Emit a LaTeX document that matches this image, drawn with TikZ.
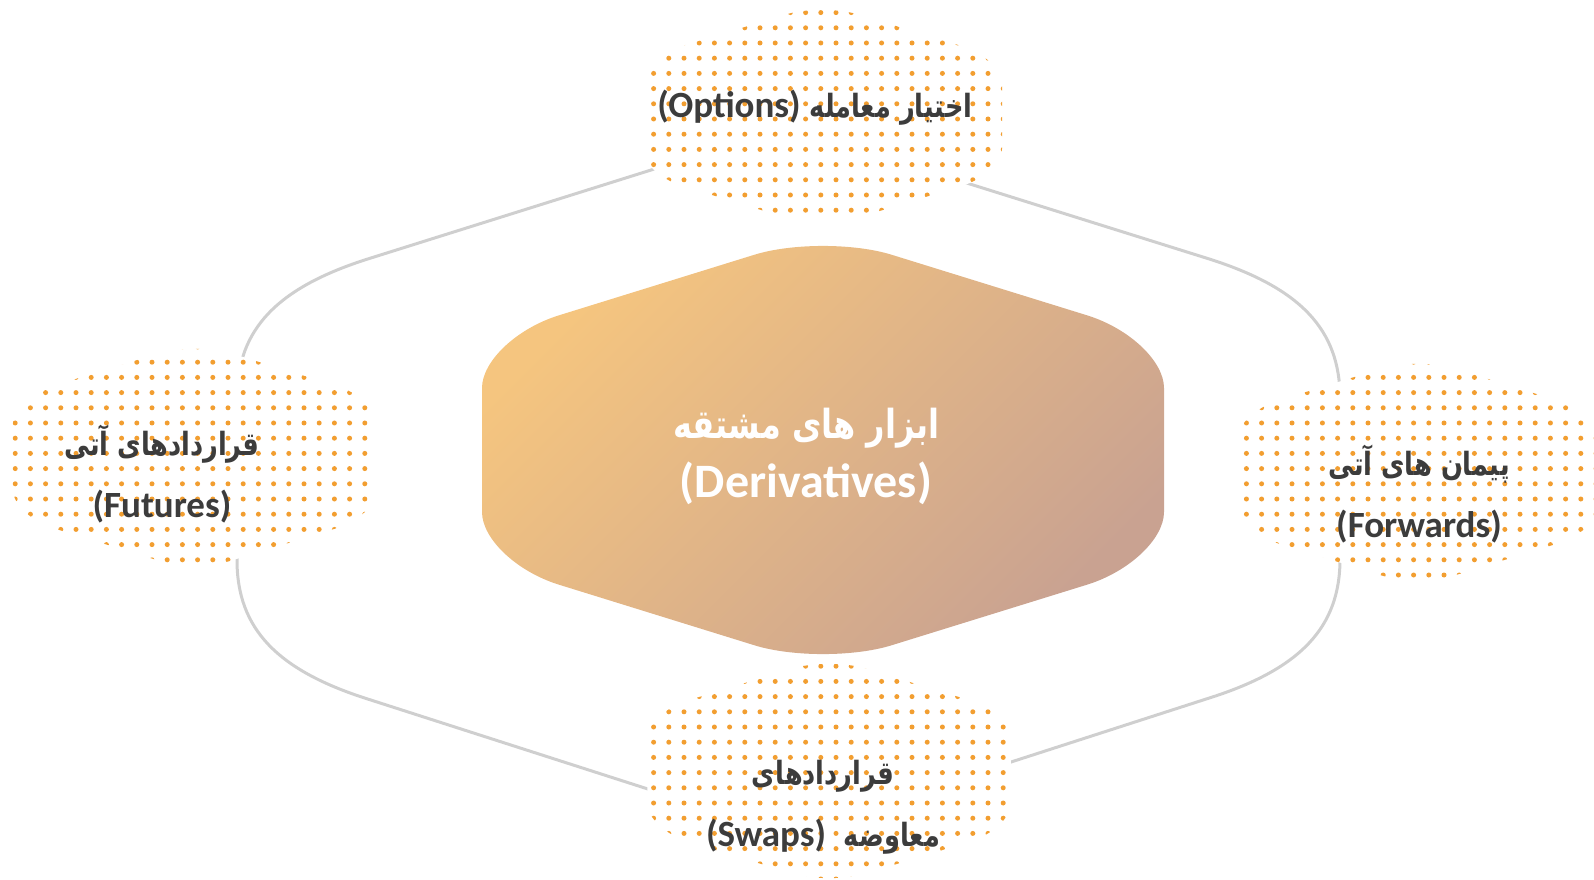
\documentclass[tikz,border=0pt]{standalone}
\usepackage{fontspec}
\setmainfont{Carlito}
\newfontfamily\fa[Script=Arabic,FakeStretch=0.8]{DejaVu Sans}
\newfontfamily\lat[BoldFont={Carlito Bold}]{Carlito}
\TeXXeTstate=1
\usetikzlibrary{patterns.meta}
\definecolor{txtdark}{HTML}{3C3C3C}
\definecolor{ringgrey}{HTML}{CFCFCF}
\definecolor{dotorange}{HTML}{F29E30}
\definecolor{gradA}{HTML}{F5C57F}
\definecolor{gradB}{HTML}{C9A291}
\newcommand{\hexpath}{(-341,-62) .. controls (-341,-89) and (-306,-122) .. (-263,-135) -- (-68.8,-195.2) .. controls (-31,-207) and (31,-207) .. (68.8,-195.2) -- (263,-135) .. controls (306,-122) and (341,-89) .. (341,-62) -- (341,62) .. controls (341,89) and (306,122) .. (263,135) -- (68.8,195.2) .. controls (31,207) and (-31,207) .. (-68.8,195.2) -- (-263,135) .. controls (-306,122) and (-341,89) .. (-341,62) -- cycle}
\newcommand{\fatext}{\fontsize{16}{31}\selectfont\fa\bfseries}
\newcommand{\lattext}{\fontsize{18.5}{31}\selectfont\lat\bfseries}
\tikzset{
  dotfill/.style={preaction={fill=white}, pattern={Dots[radius=1.25pt, distance=7.6pt]}, pattern color=dotorange},
  ringline/.style={draw=ringgrey, line width=1.5pt, line join=round},
  lbl/.style={text=txtdark, align=center, inner sep=0pt, font=\fontsize{17}{31}\selectfont\bfseries},
  centerlbl/.style={text=white, align=center, inner sep=0pt, font=\fontsize{23}{29.5}\selectfont\bfseries}
}
\begin{document}
\begin{tikzpicture}[x=0.5pt,y=-0.5pt]
\useasboundingbox (0,0) rectangle (1594,879);
% ring coordinates
\coordinate (rT) at (788,127);
\coordinate (rB) at (788,834);
\draw[ringline] (rT) -- (369.6,258.4) .. controls (276.8,287.5) and (237,329.4) .. (237,398)
  -- (237,560) .. controls (237,628.6) and (276.8,670.5) .. (369.6,699.6)
  -- (rB) -- (1207.4,698.6) .. controls (1300.2,669.5) and (1340,627.6) .. (1340,559)
  -- (1340,398) .. controls (1340,329.4) and (1300.2,287.5) .. (1207.4,258.4) -- cycle;
% central shape
\begin{scope}[shift={(823,450)}]
  \path[top color=gradA, bottom color=gradB, shading angle=45] \hexpath;
\end{scope}
% dotted shapes
\begin{scope}[shift={(822,116)}, xscale=0.528, yscale=0.52]
  \path[dotfill] \hexpath;
\end{scope}
\begin{scope}[shift={(195,457)}, xscale=0.534, yscale=0.53]
  \path[dotfill] \hexpath;
\end{scope}
\begin{scope}[shift={(1418,472)}, xscale=0.53, yscale=0.53]
  \path[dotfill] \hexpath;
\end{scope}
\begin{scope}[shift={(829,771)}, xscale=0.533, yscale=0.525]
  \path[dotfill] \hexpath;
\end{scope}
% texts
\node[centerlbl] (der) at (806,456) {{\fontsize{20}{29.5}\selectfont\fa\bfseries\beginR ابزار های مشتقه\endR}\\{\fontsize{24}{29.5}\selectfont\lat\bfseries(Derivatives)}};
\node[lbl] (opt) at (815,108) {\fatext\beginR اختیار معامله \beginL\lattext(Options)\endL\endR};
\node[lbl] (fut) at (162,474) {{\fatext\beginR قراردادهای آتی\endR}\\{\lattext(Futures)}};
\node[lbl] (fwd) at (1419,494) {{\fatext\beginR پیمان های آتی\endR}\\{\lattext(Forwards)}};
\node[lbl] (swp) at (823,807) {{\fatext\beginR قراردادهای\endR}\\{\fatext\beginR معاوضه\ \ \beginL\lattext(Swaps)\endL\endR}};
\end{tikzpicture}
\end{document}
